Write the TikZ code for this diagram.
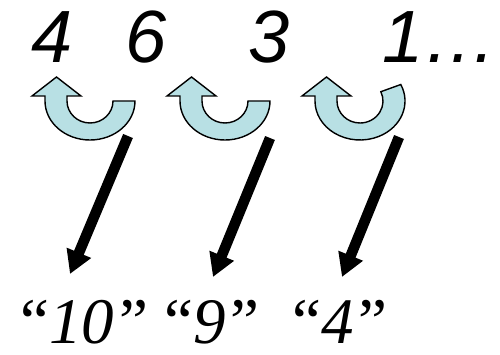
\documentclass[tikz,border=0pt]{standalone}
\usepackage{fontspec}
\usepackage{tikz}
\usetikzlibrary{arrows.meta}
\newfontfamily\digitfont{Liberation Sans}
\newfontfamily\quotefont{Liberation Serif}
\definecolor{turnfill}{RGB}{184,224,228}
\tikzset{
  uturn/.style={draw=black, line width=1.4pt, fill=turnfill, line join=miter},
  bigarrow/.style={line width=10.5pt, -{Triangle[width=25pt,length=23pt]}},
  topnum/.style={anchor=base, inner sep=0pt, font=\digitfont\itshape\fontsize{74}{80}\selectfont},
  botnum/.style={anchor=base west, inner sep=0pt, font=\quotefont\fontsize{65}{70}\selectfont}
}
\begin{document}
\begin{tikzpicture}[x=1pt,y=1pt]
\useasboundingbox (0,0) rectangle (500,354);
% digits on top
\node[topnum] (n4) at (52,291) {4};
\node[topnum] (n6) at (146,291) {6};
\node[topnum] (n3) at (269,291) {3};
\node[topnum] (n1) at (440,291) {1…};
% u-turn arrows
\foreach \cx/\e in {90/360, 225/360, 360/385}{
  \draw[uturn] (\cx-45,253) -- (\cx-45,258) -- (\cx-58,258) -- (\cx-33.5,277)
    -- (\cx-9,258) -- (\cx-23,258) -- (\cx-23,253)
    arc[start angle=180, end angle=\e, x radius=23, y radius=22]
    -- ({\cx+45*cos(\e)},{253+39*sin(\e)})
    arc[start angle=\e, end angle=180, x radius=45, y radius=39] -- cycle;
}
% sums below
\node[botnum] (s10) at (20,11) {“\textit{10}\kern5pt”};
\node[botnum] (s9) at (164,11) {“\textit{9}\kern5pt”};
\node[botnum] (s4) at (292,11) {“\textit{4}\kern5pt”};
\coordinate (a1) at (128,218); \coordinate (b1) at (70,80);
\coordinate (a2) at (270,216); \coordinate (b2) at (213,77);
\coordinate (a3) at (399,217); \coordinate (b3) at (342,77);
\draw[bigarrow] (a1) -- (b1);
\draw[bigarrow] (a2) -- (b2);
\draw[bigarrow] (a3) -- (b3);
\end{tikzpicture}
\end{document}
